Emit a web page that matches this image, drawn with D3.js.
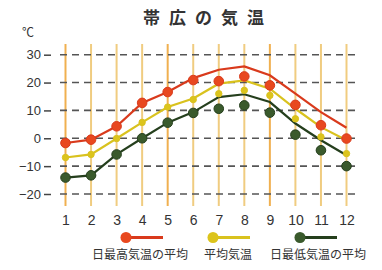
<!DOCTYPE html>
<html>
<head>
<meta charset="utf-8">
<script src="https://d3js.org/d3.v7.min.js"></script>
<style>
body { margin: 0; background: #fff; }
text { font-family: "Liberation Sans", "Noto Sans CJK JP", sans-serif; }
</style>
</head>
<body>
<svg width="382" height="270"></svg>
<script>
var months = [1, 2, 3, 4, 5, 6, 7, 8, 9, 10, 11, 12];
var yTicks = [30, 20, 10, 0, -10, -20];

// points (dots)
var highDots = [-1.7, -0.5, 4.3, 12.7, 16.6, 20.9, 20.5, 22.2, 19.0, 12.0, 4.7, -0.1];
var meanDots = [-6.9, -5.8, -0.1, 5.7, 11.2, 13.9, 16.0, 17.2, 15.4, 7.0, 0.5, -5.5];
var lowDots  = [-14.1, -13.3, -5.8, 0.0, 5.6, 9.1, 10.6, 11.8, 9.2, 1.3, -4.3, -10.0];

// lines
var highLine = [-1.7, -0.5, 4.3, 12.7, 16.6, 21.6, 24.6, 25.8, 22.6, 16.0, 9.4, 3.8];
var meanLine = [-6.9, -5.8, -0.1, 5.7, 11.2, 14.3, 19.6, 20.8, 17.8, 10.6, 4.0, -0.7];
var lowLine  = [-14.1, -13.3, -5.8, 0.0, 5.6, 9.4, 14.8, 15.8, 13.0, 5.3, -0.7, -6.1];

var series = [
  {name: "日最高気温の平均", dots: highDots, line: highLine, color: "#d93a1c", fill: "#e8481f", r: 4.8},
  {name: "平均気温", dots: meanDots, line: meanLine, color: "#d9c21e", fill: "#dcc41c", r: 3.2},
  {name: "日最低気温の平均", dots: lowDots, line: lowLine, color: "#253f1d", fill: "#3a5a2c", r: 4.8}
];

var svg = d3.select("svg");
var x = d3.scaleLinear().domain([1, 12]).range([65.5, 346.5]);
var y = d3.scaleLinear().domain([-20, 30]).range([194, 54.7]);

// title
svg.append("text").attr("x", 208).attr("y", 24).attr("text-anchor", "middle")
  .style("font-size", "17px").style("font-weight", "bold").style("letter-spacing", "9px")
  .style("fill", "#333").text("帯広の気温");
svg.append("text").attr("x", 22).attr("y", 37).style("font-size", "12px").style("fill", "#333").text("℃");

// vertical month lines
svg.append("g").selectAll("line").data(months).enter().append("line")
  .attr("x1", function(d) { return x(d); }).attr("x2", function(d) { return x(d); })
  .attr("y1", 44).attr("y2", 206)
  .style("stroke", function(d, i) { return i % 4 == 0 ? "#f0b050" : "#f0cc80"; })
  .style("stroke-width", 2);

// horizontal dashed grid
svg.append("g").selectAll("line").data(yTicks).enter().append("line")
  .attr("x1", 60).attr("x2", 360)
  .attr("y1", function(d) { return y(d); }).attr("y2", function(d) { return y(d); })
  .style("stroke", "#555").style("stroke-width", 1.6).style("stroke-dasharray", "7,5");

// y axis
var yAxis = svg.append("g").attr("transform", "translate(52,0)")
  .call(d3.axisLeft(y).tickValues(yTicks).tickSize(7).tickPadding(4));
yAxis.select(".domain").remove();
yAxis.selectAll(".tick line").attr("x1", -8).attr("x2", -1).style("stroke", "#444").style("stroke-width", 1.5);
yAxis.selectAll("text").style("font-size", "13px").style("fill", "#333")
  .style("font-family", "Liberation Sans, sans-serif").attr("x", -11);

// x axis labels
var xAxis = svg.append("g").attr("transform", "translate(0,210)")
  .call(d3.axisBottom(x).tickValues(months).tickSize(0).tickPadding(5));
xAxis.select(".domain").remove();
xAxis.selectAll("text").style("font-size", "14px").style("fill", "#333")
  .style("font-family", "Liberation Sans, sans-serif");

var lineGen = d3.line().x(function(d, i) { return x(months[i]); }).y(function(d) { return y(d); });

series.forEach(function(s) {
  svg.append("path").datum(s.line).attr("d", lineGen)
    .style("fill", "none").style("stroke", s.color).style("stroke-width", 2.2);
});
series.forEach(function(s) {
  svg.append("g").selectAll("circle").data(s.dots).enter().append("circle")
    .attr("cx", function(d, i) { return x(months[i]); })
    .attr("cy", function(d) { return y(d); })
    .attr("r", s.r)
    .style("fill", s.fill).style("stroke", s.color).style("stroke-width", 1);
});

// legend
var legX = [126, 213, 300];
var legTextX = [140, 228, 318];
series.forEach(function(s, i) {
  var g = svg.append("g");
  g.append("line").attr("x1", legX[i]).attr("x2", legX[i] + 37).attr("y1", 237.5).attr("y2", 237.5)
    .style("stroke", s.color).style("stroke-width", 3);
  g.append("circle").attr("cx", legX[i]).attr("cy", 237.5).attr("r", 5.5).style("fill", s.fill);
  g.append("text").attr("x", legTextX[i]).attr("y", 259).attr("text-anchor", "middle")
    .style("font-size", "12px").style("fill", "#333")
    .style("font-family", "Noto Sans CJK JP, sans-serif").text(s.name);
});
</script>
</body>
</html>
